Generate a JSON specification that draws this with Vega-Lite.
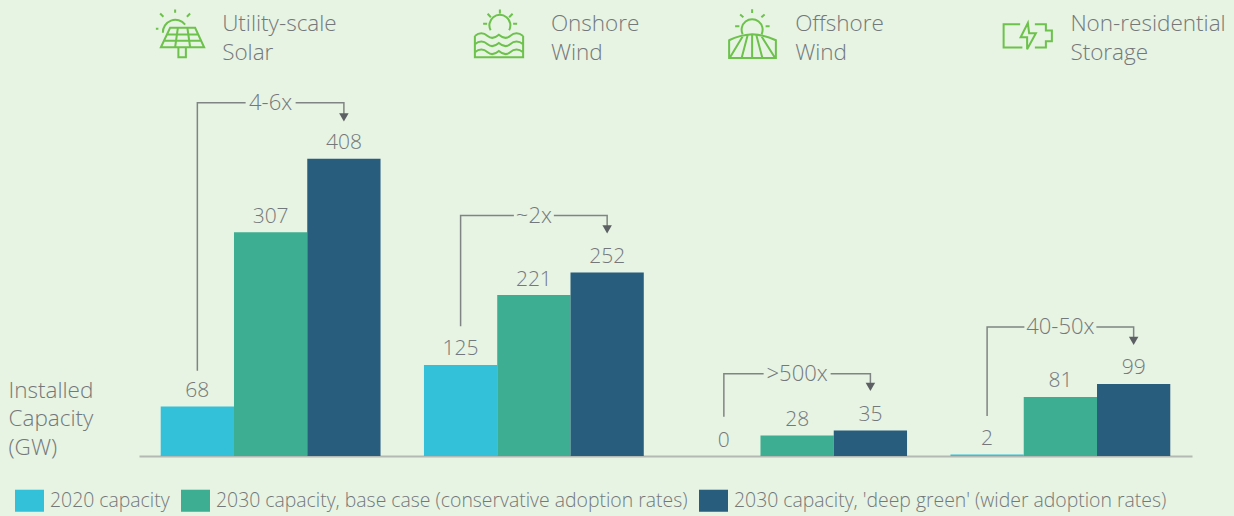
{"$schema":"https://vega.github.io/schema/vega-lite/v6.json","width":1053,"height":456,"autosize":{"type":"none"},"padding":{"left":139,"top":0,"right":42,"bottom":60},"background":"#e7f3e3","config":{"view":{"stroke":null},"font":"Open Sans"},
"datasets":{
"bars":[{"tech":"Utility-scale Solar","series":"2020 capacity","gw":68},{"tech":"Utility-scale Solar","series":"2030 capacity, base case (conservative adoption rates)","gw":307},{"tech":"Utility-scale Solar","series":"2030 capacity, 'deep green'  (wider adoption rates)","gw":408},{"tech":"Onshore Wind","series":"2020 capacity","gw":125},{"tech":"Onshore Wind","series":"2030 capacity, base case (conservative adoption rates)","gw":221},{"tech":"Onshore Wind","series":"2030 capacity, 'deep green'  (wider adoption rates)","gw":252},{"tech":"Offshore Wind","series":"2020 capacity","gw":0},{"tech":"Offshore Wind","series":"2030 capacity, base case (conservative adoption rates)","gw":28},{"tech":"Offshore Wind","series":"2030 capacity, 'deep green'  (wider adoption rates)","gw":35},{"tech":"Non-residential Storage","series":"2020 capacity","gw":2},{"tech":"Non-residential Storage","series":"2030 capacity, base case (conservative adoption rates)","gw":81},{"tech":"Non-residential Storage","series":"2030 capacity, 'deep green'  (wider adoption rates)","gw":99}],
"brackets":[{"tech":"Utility-scale Solar","series":"2020 capacity","gw":117,"step":1},{"tech":"Utility-scale Solar","series":"2020 capacity","gw":485,"step":2},{"tech":"Utility-scale Solar","series":"2030 capacity, 'deep green'  (wider adoption rates)","gw":485,"step":3},{"tech":"Utility-scale Solar","series":"2030 capacity, 'deep green'  (wider adoption rates)","gw":465,"step":4},{"tech":"Onshore Wind","series":"2020 capacity","gw":178,"step":1},{"tech":"Onshore Wind","series":"2020 capacity","gw":330,"step":2},{"tech":"Onshore Wind","series":"2030 capacity, 'deep green'  (wider adoption rates)","gw":330,"step":3},{"tech":"Onshore Wind","series":"2030 capacity, 'deep green'  (wider adoption rates)","gw":310,"step":4},{"tech":"Offshore Wind","series":"2020 capacity","gw":54,"step":1},{"tech":"Offshore Wind","series":"2020 capacity","gw":113,"step":2},{"tech":"Offshore Wind","series":"2030 capacity, 'deep green'  (wider adoption rates)","gw":113,"step":3},{"tech":"Offshore Wind","series":"2030 capacity, 'deep green'  (wider adoption rates)","gw":93,"step":4},{"tech":"Non-residential Storage","series":"2020 capacity","gw":55,"step":1},{"tech":"Non-residential Storage","series":"2020 capacity","gw":177,"step":2},{"tech":"Non-residential Storage","series":"2030 capacity, 'deep green'  (wider adoption rates)","gw":177,"step":3},{"tech":"Non-residential Storage","series":"2030 capacity, 'deep green'  (wider adoption rates)","gw":159,"step":4}],
"arrows":[{"tech":"Utility-scale Solar","series":"2030 capacity, 'deep green'  (wider adoption rates)","gw":465},{"tech":"Onshore Wind","series":"2030 capacity, 'deep green'  (wider adoption rates)","gw":311},{"tech":"Offshore Wind","series":"2030 capacity, 'deep green'  (wider adoption rates)","gw":95},{"tech":"Non-residential Storage","series":"2030 capacity, 'deep green'  (wider adoption rates)","gw":158}],
"multiples":[{"tech":"Utility-scale Solar","gw":485,"label":"4-6x"},{"tech":"Onshore Wind","gw":330,"label":"~2x"},{"tech":"Offshore Wind","gw":113,"label":">500x"},{"tech":"Non-residential Storage","gw":177,"label":"40-50x"}],
"headers":[{"tech":"Utility-scale Solar","gw":593,"name":"Utility-scale\nSolar"},{"tech":"Onshore Wind","gw":593,"name":"Onshore\nWind"},{"tech":"Offshore Wind","gw":593,"name":"Offshore\nWind"},{"tech":"Non-residential Storage","gw":593,"name":"Non-residential\nStorage"}]
},
"encoding":{"x":{"field":"tech","type":"nominal","sort":["Utility-scale Solar","Onshore Wind","Offshore Wind","Non-residential Storage"],"scale":{"paddingInner":0.165,"paddingOuter":0.0825},"axis":{"title":null,"labels":false,"ticks":false,"domain":true,"domainColor":"#b4b9b3","domainWidth":2,"grid":false}},"y":{"field":"gw","type":"quantitative","scale":{"domain":[0,626],"nice":false},"axis":{"title":["Installed","Capacity","(GW)"],"titleFontSize":22.5,"titleFontWeight":300,"titleColor":"#73787a","titleAngle":0,"titleAlign":"left","titleBaseline":"middle","titleX":-131,"titleY":390,"titleLineHeight":28.5,"labels":false,"ticks":false,"domain":false,"grid":false}}},
"layer":[
{"data":{"name":"bars"},"mark":{"type":"bar"},"encoding":{"xOffset":{"field":"series","type":"nominal","sort":null},"color":{"field":"series","type":"nominal","sort":null,"scale":{"domain":["2020 capacity","2030 capacity, base case (conservative adoption rates)","2030 capacity, 'deep green'  (wider adoption rates)"],"range":["#33c1da","#3dae91","#295d7e"]},"legend":{"title":null,"orient":"none","direction":"horizontal","columns":3,"legendX":-124,"legendY":486,"symbolType":"M-1 -.76H1V.76H-1Z","symbolSize":841,"symbolOpacity":1,"symbolStrokeWidth":0,"labelFont":"Open Sans","labelFontSize":19.4,"labelFontWeight":300,"labelColor":"#73787a","labelOffset":6,"columnPadding":11,"labelLimit":600}}}},
{"data":{"name":"bars"},"mark":{"type":"text","fontSize":21,"fontWeight":300,"color":"#73787a","baseline":"alphabetic","dy":-9.5},"encoding":{"xOffset":{"field":"series","type":"nominal","sort":null},"text":{"field":"gw","type":"quantitative"}}},
{"data":{"name":"brackets"},"mark":{"type":"line","stroke":"#7f8583","strokeWidth":1.5,"interpolate":"linear"},"encoding":{"xOffset":{"field":"series","type":"nominal","sort":null},"detail":{"field":"tech"},"order":{"field":"step","type":"quantitative"}}},
{"data":{"name":"arrows"},"mark":{"type":"point","shape":"triangle-down","filled":true,"opacity":1,"size":90,"color":"#5c6063"},"encoding":{"xOffset":{"field":"series","type":"nominal","sort":null}}},
{"data":{"name":"multiples"},"transform":[{"filter":"datum.label==='4-6x'"}],"mark":{"type":"tick","orient":"horizontal","thickness":6,"size":50,"color":"#e7f3e3","opacity":1}},
{"data":{"name":"multiples"},"transform":[{"filter":"datum.label==='~2x'"}],"mark":{"type":"tick","orient":"horizontal","thickness":6,"size":40,"color":"#e7f3e3","opacity":1}},
{"data":{"name":"multiples"},"transform":[{"filter":"datum.label==='>500x'"}],"mark":{"type":"tick","orient":"horizontal","thickness":6,"size":67,"color":"#e7f3e3","opacity":1}},
{"data":{"name":"multiples"},"transform":[{"filter":"datum.label==='40-50x'"}],"mark":{"type":"tick","orient":"horizontal","thickness":6,"size":72,"color":"#e7f3e3","opacity":1}},
{"data":{"name":"multiples"},"mark":{"type":"text","fontSize":22,"fontWeight":300,"color":"#73787a","baseline":"middle"},"encoding":{"text":{"field":"label"}}},
{"data":{"name":"headers"},"transform":[{"filter":"datum.tech==='Utility-scale Solar'"}],"mark":{"type":"text","fontSize":22.5,"fontWeight":300,"color":"#73787a","align":"left","baseline":"middle","lineBreak":"\n","lineHeight":29,"dx":-48.5},"encoding":{"text":{"field":"name"}}},
{"data":{"name":"headers"},"transform":[{"filter":"datum.tech==='Onshore Wind'"}],"mark":{"type":"text","fontSize":22.5,"fontWeight":300,"color":"#73787a","align":"left","baseline":"middle","lineBreak":"\n","lineHeight":29,"dx":17},"encoding":{"text":{"field":"name"}}},
{"data":{"name":"headers"},"transform":[{"filter":"datum.tech==='Offshore Wind'"}],"mark":{"type":"text","fontSize":22.5,"fontWeight":300,"color":"#73787a","align":"left","baseline":"middle","lineBreak":"\n","lineHeight":29,"dx":-2},"encoding":{"text":{"field":"name"}}},
{"data":{"name":"headers"},"transform":[{"filter":"datum.tech==='Non-residential Storage'"}],"mark":{"type":"text","fontSize":22.5,"fontWeight":300,"color":"#73787a","align":"left","baseline":"middle","lineBreak":"\n","lineHeight":29,"dx":10},"encoding":{"text":{"field":"name"}}},
{"data":{"name":"headers"},"transform":[{"filter":"datum.tech==='Utility-scale Solar'"},{"calculate":"580","as":"iconY"}],"mark":{"type":"point","filled":false,"opacity":1,"size":2500,"stroke":"#6cc24a","strokeWidth":2,"xOffset":-90.5,"shape":"M-.69 -.03A.5 .5 0 0 1 .2 -.36M-.2 -.96L-.2 -.83M-.8 -.8L-.67 -.67M.4 -.8L.27 -.67M-.97 -.19L-.87 -.19M-.4 -.23L.6 -.23L.96 .55L-.77 .55ZM-.53 .04L.73 .04M-.64 .29L.84 .29M-.09 -.23L-.2 .55M.29 -.23L.4 .55M-.07 .55L-.07 .95L.23 .95L.23 .55"},"encoding":{"y":{"field":"iconY","type":"quantitative"}}},
{"data":{"name":"headers"},"transform":[{"filter":"datum.tech==='Onshore Wind'"},{"calculate":"580","as":"iconY"}],"mark":{"type":"point","filled":false,"opacity":1,"size":2500,"stroke":"#6cc24a","strokeWidth":2,"xOffset":-35,"shape":"M-.33 -.13A.42 .42 0 1 1 .41 -.13M.04 -.96L.04 -.8M-.45 -.79L-.32 -.65M.55 -.79L.41 -.65M-.63 -.39L-.47 -.39M.57 -.39L.73 -.39M-.96 .1L-.96 .95L.97 .95L.97 .1M-.96 .1Q-.7 -.12 -.45 .1Q-.25 .27 0 .05Q.25 .27 .45 .1Q.7 -.12 .97 .1M-.96 .43Q-.7 .21 -.45 .43Q-.25 .6 0 .38Q.25 .6 .45 .43Q.7 .21 .97 .43M-.96 .75Q-.7 .53 -.45 .75Q-.25 .92 0 .7Q.25 .92 .45 .75Q.7 .53 .97 .75"},"encoding":{"y":{"field":"iconY","type":"quantitative"}}},
{"data":{"name":"headers"},"transform":[{"filter":"datum.tech==='Offshore Wind'"},{"calculate":"580","as":"iconY"}],"mark":{"type":"point","filled":false,"opacity":1,"size":2500,"stroke":"#6cc24a","strokeWidth":2,"xOffset":-45,"shape":"M-.38 .03A.42 .42 0 1 1 .38 .03M0 -.97L0 -.82M-.48 -.76L-.35 -.65M.5 -.76L.37 -.65M-.68 -.29L-.51 -.29M.54 -.29L.7 -.29M-.92 .98L-.92 .27Q-.5 .06 0 .03Q.5 .06 .95 .27L.95 .98ZM-.35 .07L-.9 .98M-.18 .07L-.42 .98M0 .03L0 .98M.17 .07L.41 .98M.35 .07L.92 .98"},"encoding":{"y":{"field":"iconY","type":"quantitative"}}},
{"data":{"name":"headers"},"transform":[{"filter":"datum.tech==='Non-residential Storage'"},{"calculate":"577","as":"iconY"}],"mark":{"type":"point","filled":false,"opacity":1,"size":2500,"stroke":"#6cc24a","strokeWidth":2,"xOffset":-32.5,"shape":"M-.31 -.46L-.97 -.46L-.97 .47L-.22 .47M.28 -.46L.72 -.46L.72 -.21L.96 -.21L.96 .22L.72 .22L.72 .47L.28 .47M0 -.51L-.29 .06L-.03 .06L-.03 .54L.32 -.1L.05 -.1Z"},"encoding":{"y":{"field":"iconY","type":"quantitative"}}}
]}
